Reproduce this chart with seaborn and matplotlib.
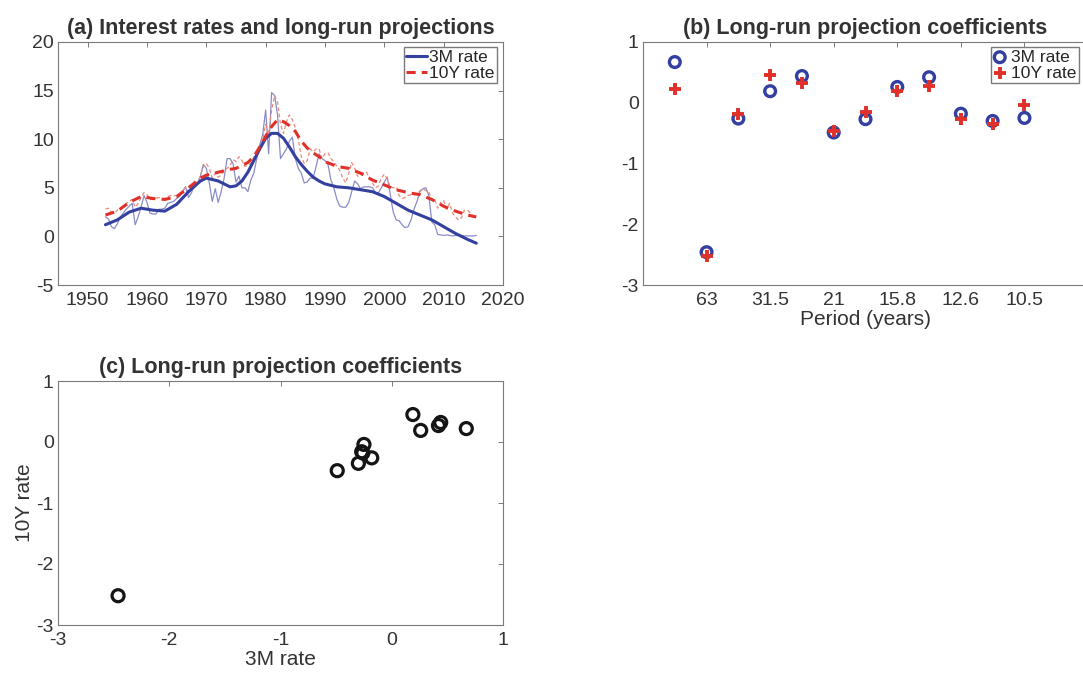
import numpy as np
import pandas as pd
import seaborn as sns
import matplotlib.pyplot as plt

# ---- panel (a): observed rates, semi-annual samples 1953.0 .. 2015.5
years_raw = np.arange(1953, 2016, 0.5)
rate_3m = [2.0, 1.8, 1.0, 0.8, 1.3, 2.0, 2.4, 2.8, 3.1, 3.4,
           1.2, 2.0, 3.0, 4.2, 3.5, 2.4, 2.3, 2.3, 2.8, 2.8,
           2.9, 3.4, 3.5, 3.6, 3.9, 4.1, 4.6, 5.1, 4.0, 4.5,
           5.3, 5.4, 6.2, 7.4, 7.0, 5.5, 3.6, 4.9, 3.5, 4.6,
           6.0, 8.0, 8.0, 7.5, 5.6, 6.2, 5.0, 5.0, 4.6, 5.8,
           6.5, 8.0, 9.4, 10.5, 13.0, 8.5, 14.8, 14.5, 12.5, 8.0,
           8.5, 9.0, 9.8, 10.2, 8.0, 7.0, 6.5, 5.5, 5.6, 6.0,
           6.0, 7.2, 8.5, 8.0, 7.8, 7.4, 5.8, 5.0, 3.8, 3.1,
           3.0, 3.0, 3.5, 4.6, 5.7, 5.4, 4.9, 5.1, 5.1, 5.1,
           5.0, 4.5, 4.5, 5.0, 5.6, 6.1, 4.3, 2.5, 1.7, 1.6,
           1.2, 0.9, 1.0, 1.7, 2.8, 3.6, 4.6, 4.9, 5.0, 4.2,
           1.5, 1.2, 0.2, 0.15, 0.1, 0.15, 0.1, 0.05, 0.1, 0.1,
           0.1, 0.05, 0.05, 0.05, 0.05, 0.1]
rate_10y = [2.8, 2.9, 2.5, 2.4, 2.7, 2.9, 3.0, 3.4, 3.6, 3.8,
            3.0, 3.4, 4.0, 4.5, 4.3, 3.8, 3.8, 3.9, 4.0, 3.9,
            3.9, 4.1, 4.2, 4.2, 4.2, 4.4, 4.7, 5.1, 4.6, 5.3,
            5.5, 5.6, 6.2, 7.2, 7.5, 7.0, 6.0, 6.5, 6.1, 6.3,
            6.8, 7.0, 7.3, 7.9, 7.7, 8.2, 7.8, 7.2, 7.3, 7.5,
            8.2, 8.7, 9.1, 10.0, 11.5, 10.5, 13.0, 14.5, 13.8, 11.5,
            10.6, 11.8, 12.5, 12.0, 11.2, 10.0, 8.2, 7.5, 7.8, 9.0,
            8.7, 9.0, 9.0, 8.0, 8.5, 8.6, 8.0, 7.7, 7.2, 6.8,
            6.0, 5.5, 6.5, 7.6, 7.0, 6.2, 6.3, 6.6, 6.6, 6.0,
            5.5, 5.0, 5.2, 6.0, 6.4, 5.9, 5.1, 5.0, 5.1, 4.2,
            3.9, 4.0, 4.2, 4.3, 4.3, 4.3, 4.7, 4.9, 4.7, 4.6,
            3.7, 3.8, 2.9, 3.5, 3.7, 2.8, 3.4, 2.4, 2.0, 1.7,
            1.9, 2.7, 2.7, 2.4, 2.0, 2.2]

# long-run projections (smooth)
years_lr = [1953, 1955, 1957, 1959, 1961, 1963, 1965, 1967, 1969, 1970,
            1972, 1974, 1975, 1976, 1977, 1978, 1979, 1980, 1981, 1982,
            1983, 1984, 1985, 1986, 1987, 1988, 1989, 1990, 1992, 1994,
            1996, 1998, 2000, 2002, 2004, 2006, 2008, 2010, 2012, 2014, 2015.5]
lr_3m = [1.2, 1.7, 2.5, 2.9, 2.7, 2.6, 3.3, 4.6, 5.7, 6.0,
         5.7, 5.1, 5.2, 5.7, 6.6, 7.8, 9.0, 10.1, 10.6, 10.6,
         10.1, 9.2, 8.2, 7.4, 6.7, 6.1, 5.7, 5.4, 5.1, 5.0,
         4.8, 4.6, 4.1, 3.4, 2.7, 2.2, 1.7, 1.0, 0.3, -0.3, -0.7]
lr_10y = [2.2, 2.6, 3.5, 4.1, 3.9, 3.8, 4.1, 5.0, 6.0, 6.3,
          6.6, 6.9, 7.0, 7.3, 7.6, 8.2, 9.2, 10.3, 11.3, 12.0,
          11.8, 11.4, 10.8, 9.8, 9.1, 8.6, 8.2, 7.7, 7.2, 7.0,
          6.5, 5.8, 5.3, 4.8, 4.5, 4.3, 3.8, 3.1, 2.6, 2.2, 2.0]

# ---- panels (b) and (c): long-run projection coefficients
k_index = list(range(1, 13))
coef_3m = [0.67, -2.46, -0.26, 0.19, 0.44, -0.49, -0.27, 0.26, 0.42, -0.18, -0.30, -0.25]
coef_10y = [0.22, -2.52, -0.18, 0.45, 0.32, -0.47, -0.16, 0.19, 0.27, -0.26, -0.35, -0.04]
period_ticks = [2, 4, 6, 8, 10, 12]
period_labels = ['63', '31.5', '21', '15.8', '12.6', '10.5']

sns.set_theme(style="white")
plt.rcParams['font.family'] = ['Liberation Sans', 'DejaVu Sans']
plt.rcParams['axes.unicode_minus'] = False
plt.rcParams['xtick.direction'] = 'in'
plt.rcParams['ytick.direction'] = 'in'

BLUE = '#3340a0'
BLUE_LIGHT = '#8a8cc8'
RED = '#e0302a'
RED_LIGHT = '#ec8a7a'
GREY = '#7a7a7a'
TXT = '#333333'

fig = plt.figure(figsize=(10.83, 6.75), dpi=100)
W, H = 1083, 675


def box(left, top, right, bottom):
    return [left / W, 1 - bottom / H, (right - left) / W, (bottom - top) / H]


def style_axes(ax):
    for s in ax.spines.values():
        s.set_visible(True)
        s.set_color(GREY)
        s.set_linewidth(0.8)
    ax.tick_params(which='both', top=True, right=True, length=3.5, width=0.7,
                   color=GREY, labelsize=14, labelcolor=TXT, pad=3)
    ax.tick_params(axis='x', pad=5)


ax_a = fig.add_axes(box(58, 42, 503, 285))
ax_b = fig.add_axes(box(643, 42, 1088, 285))
ax_c = fig.add_axes(box(58, 381, 503, 625))

# (a)
sns.lineplot(x=years_raw, y=rate_3m, ax=ax_a, color=BLUE_LIGHT, linewidth=0.9)
sns.lineplot(x=years_raw, y=rate_10y, ax=ax_a, color=RED_LIGHT, linewidth=0.9, linestyle=(0, (3, 2)))
sns.lineplot(x=years_lr, y=lr_3m, ax=ax_a, color=BLUE, linewidth=2.2, label='3M rate')
sns.lineplot(x=years_lr, y=lr_10y, ax=ax_a, color=RED, linewidth=2.2, linestyle=(0, (3, 2)), label='10Y rate')
ax_a.set_xlim(1945, 2020)
ax_a.set_ylim(-5, 20)
ax_a.set_xticks(range(1950, 2021, 10))
ax_a.set_yticks(range(-5, 21, 5))
ax_a.set_title('(a) Interest rates and long-run projections', fontsize=15.5, fontweight='bold', color=TXT, pad=6)
ax_a.legend(loc='upper right', bbox_to_anchor=(0.9865, 0.979), fontsize=12.5, frameon=True,
            fancybox=False, framealpha=1, edgecolor=GREY, handlelength=1.2, handletextpad=0.1,
            borderpad=0.15, labelspacing=0.05, borderaxespad=0)

# (b)
sns.scatterplot(x=k_index, y=coef_3m, ax=ax_b, marker='o', s=60, facecolor='none',
                edgecolor=BLUE, linewidth=2.4, label='3M rate', zorder=3)
sns.scatterplot(x=k_index, y=coef_10y, ax=ax_b, marker='+', s=85, color=RED,
                linewidth=2.8, label='10Y rate', zorder=4)
ax_b.set_xlim(0, 14)
ax_b.set_ylim(-3, 1)
ax_b.set_xticks(period_ticks)
ax_b.set_xticklabels(period_labels)
ax_b.set_yticks(range(-3, 2))
ax_b.set_xlabel('Period (years)', fontsize=15, color=TXT, labelpad=1)
ax_b.set_title('(b) Long-run projection coefficients', fontsize=15.5, fontweight='bold', color=TXT, pad=6)
ax_b.legend(loc='upper right', bbox_to_anchor=((1079 - 643) / 445, (285 - 47) / 243), fontsize=12.5,
            frameon=True, fancybox=False, framealpha=1, edgecolor=GREY, handlelength=0.7,
            handletextpad=0.3, borderpad=0.15, labelspacing=0.05, borderaxespad=0)

# (c)
sns.scatterplot(x=coef_3m, y=coef_10y, ax=ax_c, marker='o', s=75, facecolor='none',
                edgecolor='#151515', linewidth=2.3)
ax_c.set_xlim(-3, 1)
ax_c.set_ylim(-3, 1)
ax_c.set_xticks(range(-3, 2))
ax_c.set_yticks(range(-3, 2))
ax_c.set_xlabel('3M rate', fontsize=15, color=TXT, labelpad=1)
ax_c.set_ylabel('10Y rate', fontsize=15, color=TXT, labelpad=2)
ax_c.set_title('(c) Long-run projection coefficients', fontsize=15.5, fontweight='bold', color=TXT, pad=6)

for ax in (ax_a, ax_b, ax_c):
    style_axes(ax)

fig.savefig('out.png', dpi=100)
